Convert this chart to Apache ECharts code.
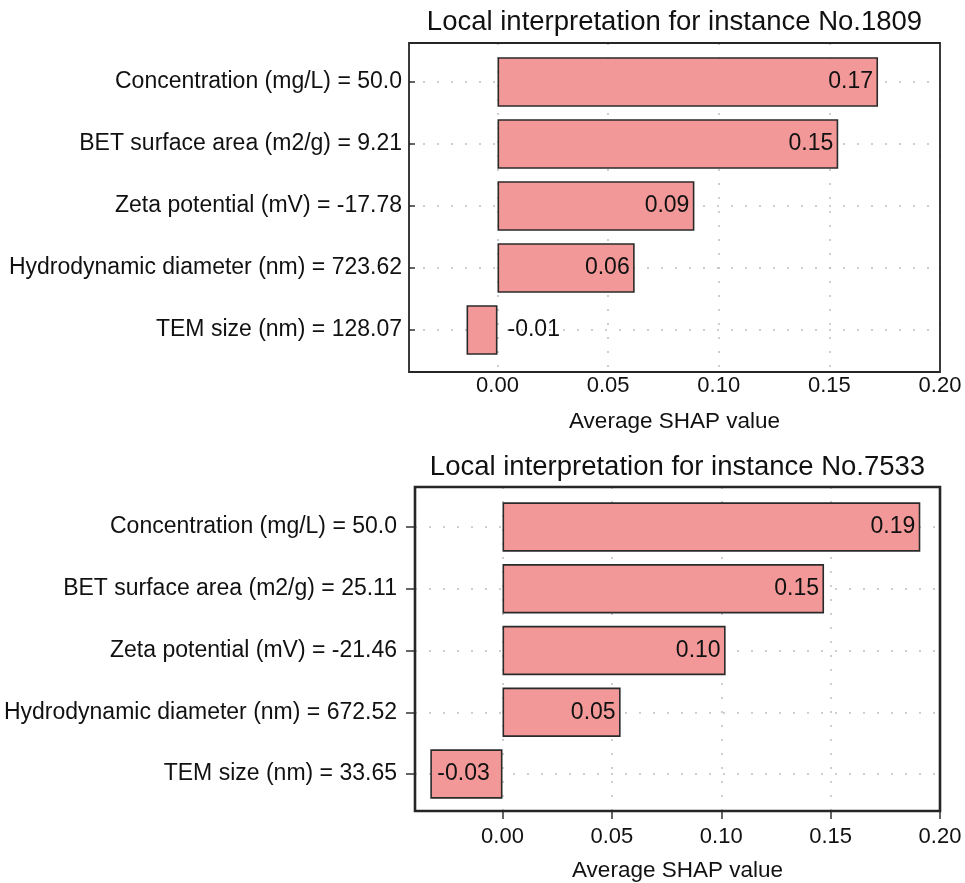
<!DOCTYPE html>
<html>
<head>
<meta charset="utf-8">
<script src="https://cdn.jsdelivr.net/npm/echarts@6/dist/echarts.min.js"></script>
<style>
html,body{margin:0;padding:0;background:#fff;}
#main{width:965px;height:883px;}
</style>
</head>
<body>
<div id="main"></div>
<script>
const topTitle = 'Local interpretation for instance No.1809';
const bottomTitle = 'Local interpretation for instance No.7533';
const topCategories = [
  'Concentration (mg/L) = 50.0',
  'BET surface area (m2/g) = 9.21',
  'Zeta potential (mV) = -17.78',
  'Hydrodynamic diameter (nm) = 723.62',
  'TEM size (nm) = 128.07'
];
const topValues = [0.172, 0.154, 0.089, 0.062, -0.014];
const bottomCategories = [
  'Concentration (mg/L) = 50.0',
  'BET surface area (m2/g) = 25.11',
  'Zeta potential (mV) = -21.46',
  'Hydrodynamic diameter (nm) = 672.52',
  'TEM size (nm) = 33.65'
];
const bottomValues = [0.191, 0.147, 0.102, 0.054, -0.033];
const xTicks = [0, 0.05, 0.10, 0.15, 0.20];
const xMin = -0.04, xMax = 0.20;
const xAxisName = 'Average SHAP value';

const FONT = 'Liberation Sans, Arial, Helvetica, sans-serif';
const TXT = '#111111';
const dotted = {color: '#bdbdbd', width: 1.5, type: [2, 12]};

function barData(values, negPos, negDist) {
  return values.map(v => ({
    value: v,
    label: v >= 0
      ? {position: 'insideRight', distance: 5}
      : {position: negPos, distance: negDist}
  }));
}

const option = {
  backgroundColor: '#fff',
  animation: false,
  graphic: [
    {type: 'text', x: 674.5, y: 22, style: {text: topTitle, fill: TXT, font: '27.5px ' + FONT, textAlign: 'center', textVerticalAlign: 'middle'}},
    {type: 'text', x: 677.5, y: 467, style: {text: bottomTitle, fill: TXT, font: '27.5px ' + FONT, textAlign: 'center', textVerticalAlign: 'middle'}}
  ],
  grid: [
    {left: 409, top: 43, width: 531, height: 329, show: true, z: 5, borderColor: '#262626', borderWidth: 1.8, backgroundColor: 'transparent'},
    {left: 409, top: 82, width: 531, height: 248},
    {left: 415, top: 487, width: 525, height: 326, show: true, z: 5, borderColor: '#262626', borderWidth: 2.6, backgroundColor: 'transparent'},
    {left: 415, top: 527, width: 525, height: 247}
  ],
  xAxis: [
    {gridIndex: 0, type: 'value', min: xMin, max: xMax,
     axisLine: {show: false},
     axisTick: {show: false, customValues: xTicks},
     axisLabel: {customValues: xTicks, formatter: v => v.toFixed(2), fontSize: 22, color: TXT, fontFamily: FONT, margin: 3},
     splitLine: {show: true, lineStyle: dotted},
     name: xAxisName, nameLocation: 'middle', nameGap: 38,
     nameTextStyle: {fontSize: 22.5, color: TXT, fontFamily: FONT}},
    {gridIndex: 1, type: 'value', min: xMin, max: xMax, show: false, splitLine: {show: false}},
    {gridIndex: 2, type: 'value', min: xMin, max: xMax,
     axisLine: {show: false},
     axisTick: {show: true, inside: false, length: 8, customValues: xTicks, lineStyle: {color: '#333', width: 1.5}},
     axisLabel: {customValues: xTicks, formatter: v => v.toFixed(2), fontSize: 22, color: TXT, fontFamily: FONT, margin: 15},
     splitLine: {show: true, lineStyle: dotted},
     name: xAxisName, nameLocation: 'middle', nameGap: 48,
     nameTextStyle: {fontSize: 22.5, color: TXT, fontFamily: FONT}},
    {gridIndex: 3, type: 'value', min: xMin, max: xMax, show: false, splitLine: {show: false}}
  ],
  yAxis: [
    {gridIndex: 0, type: 'value', min: 0, max: 1, show: false, splitLine: {show: false}},
    {gridIndex: 1, type: 'category', data: topCategories, inverse: true, boundaryGap: false,
     axisLine: {show: false, onZero: false},
     axisTick: {show: true, inside: true, length: 6, lineStyle: {color: '#333', width: 1.5}},
     axisLabel: {fontSize: 23, color: TXT, fontFamily: FONT, margin: 7},
     splitLine: {show: true, lineStyle: dotted}},
    {gridIndex: 2, type: 'value', min: 0, max: 1, show: false, splitLine: {show: false}},
    {gridIndex: 3, type: 'category', data: bottomCategories, inverse: true, boundaryGap: false,
     axisLine: {show: false, onZero: false},
     axisTick: {show: true, inside: false, length: 9, lineStyle: {color: '#333', width: 1.5}},
     axisLabel: {fontSize: 23, color: TXT, fontFamily: FONT, margin: 18},
     splitLine: {show: true, lineStyle: dotted}}
  ],
  series: [
    {type: 'bar', xAxisIndex: 1, yAxisIndex: 1, barWidth: '80%', clip: false,
     data: barData(topValues, 'right', 10),
     itemStyle: {color: '#F29898', borderColor: '#2a2a2a', borderWidth: 1.6},
     label: {show: true, formatter: p => p.value.toFixed(2), fontSize: 23, color: TXT, fontFamily: FONT}},
    {type: 'bar', xAxisIndex: 3, yAxisIndex: 3, barWidth: '80%', clip: false,
     data: barData(bottomValues, 'insideLeft', 7),
     itemStyle: {color: '#F29898', borderColor: '#2a2a2a', borderWidth: 1.6},
     label: {show: true, formatter: p => p.value.toFixed(2), fontSize: 23, color: TXT, fontFamily: FONT}}
  ]
};

const chart = echarts.init(document.getElementById('main'), null, {renderer: 'canvas'});
chart.setOption(option);
</script>
</body>
</html>
